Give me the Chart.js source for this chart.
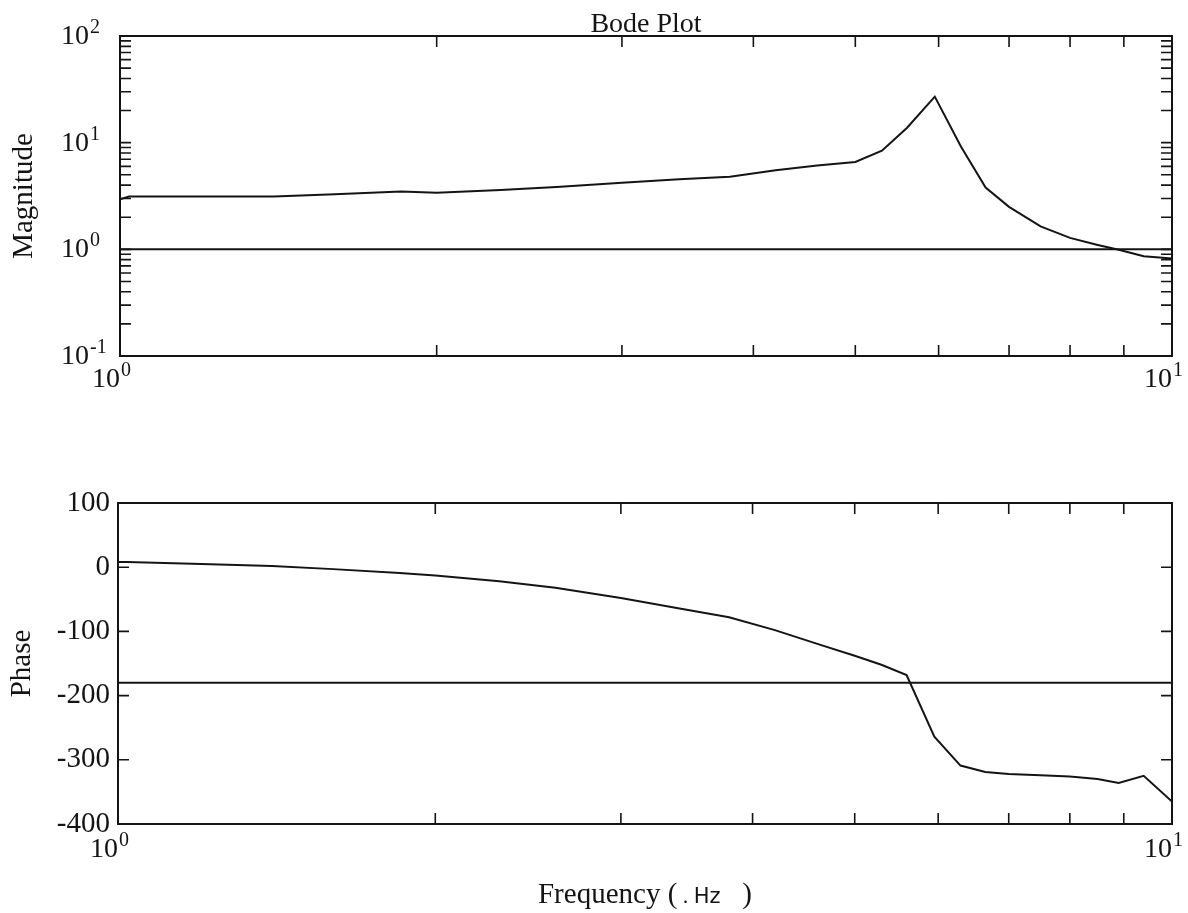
<!DOCTYPE html>
<html>
<head>
<meta charset="utf-8">
<title>Bode Plot</title>
<script src="https://cdn.jsdelivr.net/npm/chart.js@4.4.1/dist/chart.umd.min.js"></script>
<style>
    body { margin: 0; background: #fff; }
    #wrap { position: relative; width: 1188px; height: 913px; }
    #magBox { position: absolute; left: 0; top: 0; width: 1188px; height: 420px; }
    #phaseBox { position: absolute; left: 0; top: 440px; width: 1188px; height: 473px; }
</style>
</head>
<body>
<div id="wrap">
    <div id="magBox"><canvas id="magChart"></canvas></div>
    <div id="phaseBox"><canvas id="phaseChart"></canvas></div>
</div>
<script>
// Frequency samples (Hz)
const freqs = [1, 1.02, 1.2, 1.4, 1.6, 1.85, 2.0, 2.3, 2.6, 3.0, 3.4, 3.8, 4.2, 4.6, 5.0,
               5.3, 5.6, 5.95, 6.3, 6.65, 7.0, 7.5, 8.0, 8.5, 8.9, 9.4, 10];

// Magnitude (log axis)
const magnitude = [2.95, 3.12, 3.12, 3.12, 3.28, 3.48, 3.4, 3.6, 3.85, 4.2, 4.55, 4.8, 5.5, 6.1, 6.6,
                   8.4, 13.8, 27, 9.2, 3.8, 2.5, 1.64, 1.28, 1.1, 0.99, 0.86, 0.82];

// Phase (degrees)
const phase = [8, 8, 5, 2, -3, -9, -13, -22, -32, -48, -64, -78, -98, -119, -138,
               -152, -168, -264, -309, -319, -322, -324, -326, -330, -336, -325, -365];

// Reference lines: |G| = 1 and phase = -180
const refFreqs = [1, 10];
const magRefLine = [1, 1];
const phaseRefLine = [-180, -180];

// Tick positions
const xMinorTicks = [2, 3, 4, 5, 6, 7, 8, 9];
const magTicks = [0.2, 0.3, 0.4, 0.5, 0.6, 0.7, 0.8, 0.9, 1, 2, 3, 4, 5, 6, 7, 8, 9, 10,
                  20, 30, 40, 50, 60, 70, 80, 90];
const magDecades = [-1, 0, 1, 2];
const freqDecades = [0, 1];
const phaseTicks = [-300, -200, -100, 0];

const SERIF = "'Liberation Serif', 'Times New Roman', serif";
const SANS = "'DejaVu Sans', 'Liberation Sans', sans-serif";
const INK = '#141414';

const points = (xs, ys) => xs.map((x, i) => ({ x: x, y: ys[i] }));

/**
 * Box frame plus inward ticks on all four sides
 */
const frameTicks = {
    id: 'frameTicks',
    afterDatasetsDraw(chart, args, opts) {
        const { ctx, chartArea: a, scales } = chart;
        ctx.save();
        ctx.strokeStyle = INK;
        ctx.lineWidth = 2;
        ctx.strokeRect(a.left, a.top, a.right - a.left, a.bottom - a.top);
        ctx.beginPath();
        opts.xTicks.forEach(v => {
            const px = scales.x.getPixelForValue(v);
            ctx.moveTo(px, a.bottom); ctx.lineTo(px, a.bottom - opts.len);
            ctx.moveTo(px, a.top); ctx.lineTo(px, a.top + opts.len);
        });
        opts.yTicks.forEach(v => {
            const py = scales.y.getPixelForValue(v);
            ctx.moveTo(a.left, py); ctx.lineTo(a.left + opts.len, py);
            ctx.moveTo(a.right, py); ctx.lineTo(a.right - opts.len, py);
        });
        ctx.lineWidth = 1.6;
        ctx.stroke();
        ctx.restore();
    }
};

/**
 * "10^n" labels for the log axes
 */
const powerLabels = {
    id: 'powerLabels',
    afterDraw(chart, args, opts) {
        const { ctx, chartArea: a, scales } = chart;
        ctx.save();
        ctx.fillStyle = INK;
        const draw = (exp, rightX, baseY) => {
            ctx.font = opts.size + 'px ' + SERIF;
            ctx.textAlign = 'right';
            ctx.textBaseline = 'alphabetic';
            ctx.fillText('10', rightX, baseY);
            ctx.font = opts.supSize + 'px ' + SERIF;
            ctx.textAlign = 'left';
            ctx.fillText(String(exp), rightX + 1, baseY - opts.supRaise);
        };
        (opts.x || []).forEach(e => {
            draw(e, scales.x.getPixelForValue(Math.pow(10, e)), a.bottom + opts.xGap);
        });
        (opts.y || []).forEach(e => {
            draw(e, a.left - opts.yGap, scales.y.getPixelForValue(Math.pow(10, e)) + 8);
        });
        ctx.restore();
    }
};

/**
 * Frequency axis title, serif with a small sans "Hz"
 */
const freqTitle = {
    id: 'freqTitle',
    afterDraw(chart, args, opts) {
        if (!opts.parts) return;
        const { ctx, chartArea: a } = chart;
        ctx.save();
        ctx.fillStyle = INK;
        ctx.textAlign = 'left';
        ctx.textBaseline = 'alphabetic';
        let total = 0;
        opts.parts.forEach(p => { ctx.font = p.font; total += ctx.measureText(p.text).width; });
        let x = (a.left + a.right) / 2 - total / 2;
        const y = a.bottom + opts.gap;
        opts.parts.forEach(p => {
            ctx.font = p.font;
            ctx.fillText(p.text, x, y);
            x += ctx.measureText(p.text).width;
        });
        ctx.restore();
    }
};

const lineStyle = { borderColor: INK, borderWidth: 2, pointRadius: 0, tension: 0, fill: false };

// Magnitude chart
new Chart(document.getElementById('magChart'), {
    type: 'line',
    data: {
        datasets: [
            Object.assign({ data: points(freqs, magnitude) }, lineStyle),
            Object.assign({ data: points(refFreqs, magRefLine) }, lineStyle)
        ]
    },
    options: {
        responsive: true,
        maintainAspectRatio: false,
        animation: false,
        layout: { padding: { left: 0, right: 16, top: 0, bottom: 0 } },
        plugins: {
            legend: { display: false },
            tooltip: { enabled: false },
            title: {
                display: true,
                text: 'Bode Plot',
                fullSize: false,
                color: INK,
                font: { family: SERIF, size: 28, weight: 'normal', lineHeight: 1 },
                padding: { top: 11, bottom: -3 }
            },
            frameTicks: { xTicks: xMinorTicks, yTicks: magTicks, len: 11 },
            powerLabels: { x: freqDecades, y: magDecades, size: 28, supSize: 20, supRaise: 11, xGap: 31, yGap: 31 }
        },
        scales: {
            x: {
                type: 'logarithmic', min: 1, max: 10,
                grid: { display: false, drawTicks: false }, border: { display: false },
                ticks: { display: false },
                afterFit(s) { s.height = 64; }
            },
            y: {
                type: 'logarithmic', min: 0.1, max: 100,
                grid: { display: false, drawTicks: false }, border: { display: false },
                ticks: { display: false },
                title: {
                    display: true, text: 'Magnitude', color: INK,
                    font: { family: SERIF, size: 29 }, padding: { top: 7, bottom: 0 }
                },
                afterFit(s) { s.width = 120; }
            }
        }
    },
    plugins: [frameTicks, powerLabels]
});

// Phase chart
new Chart(document.getElementById('phaseChart'), {
    type: 'line',
    data: {
        datasets: [
            Object.assign({ data: points(freqs, phase) }, lineStyle),
            Object.assign({ data: points(refFreqs, phaseRefLine) }, lineStyle)
        ]
    },
    options: {
        responsive: true,
        maintainAspectRatio: false,
        animation: false,
        layout: { padding: { left: 0, right: 16, top: 63, bottom: 0 } },
        plugins: {
            legend: { display: false },
            tooltip: { enabled: false },
            frameTicks: { xTicks: xMinorTicks, yTicks: phaseTicks, len: 11 },
            powerLabels: { x: freqDecades, size: 28, supSize: 20, supRaise: 11, xGap: 33 },
            freqTitle: {
                gap: 79,
                parts: [
                    { text: 'Frequency (', font: '29px ' + SERIF },
                    { text: ' . ', font: '22px ' + SERIF },
                    { text: 'Hz', font: '21px ' + SANS },
                    { text: '   )', font: '29px ' + SERIF }
                ]
            }
        },
        scales: {
            x: {
                type: 'logarithmic', min: 1, max: 10,
                grid: { display: false, drawTicks: false }, border: { display: false },
                ticks: { display: false },
                afterFit(s) { s.height = 89; }
            },
            y: {
                type: 'linear', min: -400, max: 100,
                grid: { display: false, drawTicks: false }, border: { display: false },
                ticks: {
                    stepSize: 100, padding: 8, color: INK,
                    font: { family: SERIF, size: 29 }
                },
                title: {
                    display: true, text: 'Phase', color: INK,
                    font: { family: SERIF, size: 29 }, padding: { top: 5, bottom: 0 }
                },
                afterFit(s) { s.width = 118; }
            }
        }
    },
    plugins: [frameTicks, powerLabels, freqTitle]
});
</script>
</body>
</html>
